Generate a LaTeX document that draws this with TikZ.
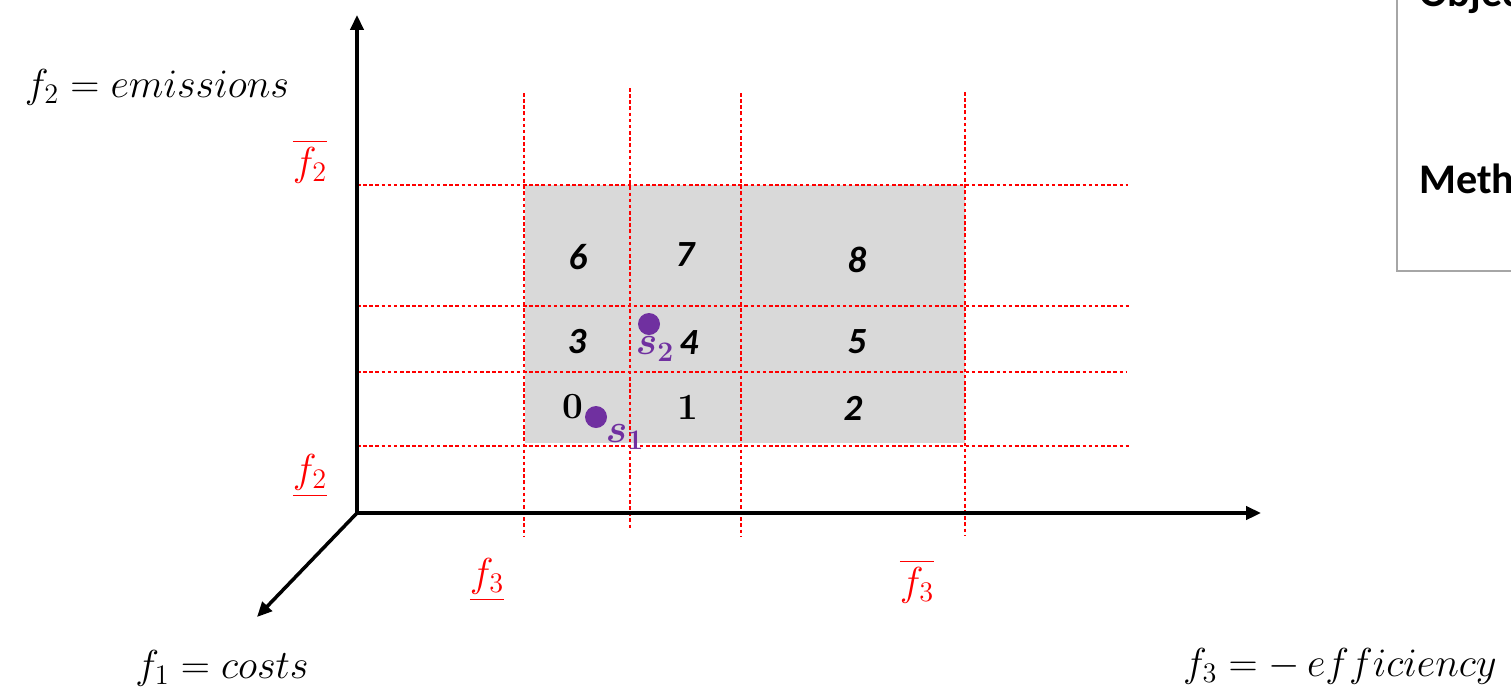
\RequirePackage{fix-cm}
\documentclass[tikz,border=0pt]{standalone}
\usepackage{amsmath,amssymb,bm}
\usepackage{fontspec}
\usepackage{xcolor}
\usetikzlibrary{arrows.meta}
\newfontfamily\calibri{Carlito}
\definecolor{ptpurple}{HTML}{7030A0}
\definecolor{boxgray}{HTML}{D9D9D9}
\definecolor{frgray}{HTML}{A6A6A6}

\begin{document}
\begin{tikzpicture}[x=0.02cm, y=-0.02cm,
  axis/.style={line width=2pt, -{Triangle[length=8.5pt, width=7.5pt]}},
  grid/.style={red, line width=0.6pt, dash pattern=on 2pt off 1.5pt},
  lab/.style={font=\fontsize{23}{27}\selectfont, inner sep=0pt},
  bnd/.style={lab, text=red},
  cell/.style={font=\calibri\fontsize{21}{25}\selectfont\bfseries\itshape, inner sep=0pt},
  scell/.style={font=\fontsize{21}{25}\selectfont\bfseries, inner sep=0pt},
  dot/.style={circle, fill=ptpurple, minimum size=0.44cm, inner sep=0pt},
  ptlab/.style={lab, text=ptpurple},
  note/.style={font=\calibri\fontsize{24}{28}\selectfont\bfseries, anchor=base west, inner sep=0pt}
]
\useasboundingbox (0,0) rectangle (1511,691);
\clip (0,0) rectangle (1511,691);
% shaded region
\fill[boxgray] (525,185) rectangle (965,443);
% bounds grid
\draw[grid] (357,185) -- (1128,185);
\draw[grid] (357,306) -- (1130,306);
\draw[grid] (357,372) -- (1127,372);
\draw[grid] (357,446) -- (1129,446);
\draw[grid] (524,93) -- (524,537);
\draw[grid] (630,88) -- (630,530);
\draw[grid] (741,93) -- (741,537);
\draw[grid] (965,92) -- (965,535);
% axes
\coordinate (o) at (357,513);
\coordinate (ytip) at (357,15);
\coordinate (xtip) at (1261,513);
\coordinate (ztip) at (257,617);
\draw[axis] (o) -- (ytip);
\draw[axis] (o) -- (xtip);
\draw[axis] (o) -- (ztip);
\node[lab] (f2) at (157,87) {$f_2 = emissions$};
\node[lab] (f1) at (222,668) {$f_1 = costs$};
\node[lab] (f3) at (1340,666) {$f_3 = -\,efficiency$};
% bound labels
\node[bnd] (f2max) at (310,161) {$\overline{f_2}$};
\node[bnd] (f2min) at (310,476) {$\underline{f_2}$};
\node[bnd] (f3min) at (487,580) {$\underline{f_3}$};
\node[bnd] (f3max) at (917,581) {$\overline{f_3}$};
% cells
\node[cell]  (c6) at (578,257) {6};
\node[cell]  (c7) at (685,255) {7};
\node[cell]  (c8) at (857,260) {8};
\node[cell]  (c3) at (577,342) {3};
\node[cell]  (c4) at (689,343) {4};
\node[cell]  (c5) at (857,342) {5};
\node[scell] (c0) at (573,407) {0};
\node[scell] (c1) at (688,407) {1};
\node[cell]  (c2) at (853,408) {2};
% solutions
\node[dot] (s1) at (596,417) {};
\node[ptlab] (s1l) at (625,437) {$\bm{s_1}$};
\node[dot] (s2) at (649,324) {};
\node[ptlab] (s2l) at (655,349) {$\bm{s_2}$};
% legend box (cut off)
\draw[frgray, line width=1.2pt] (1397,-20) rectangle (1560,271);
\node[note] (obj) at (1419,6) {Objectives};
\node[note] (meth) at (1419,193) {Methods};
\end{tikzpicture}
\end{document}
